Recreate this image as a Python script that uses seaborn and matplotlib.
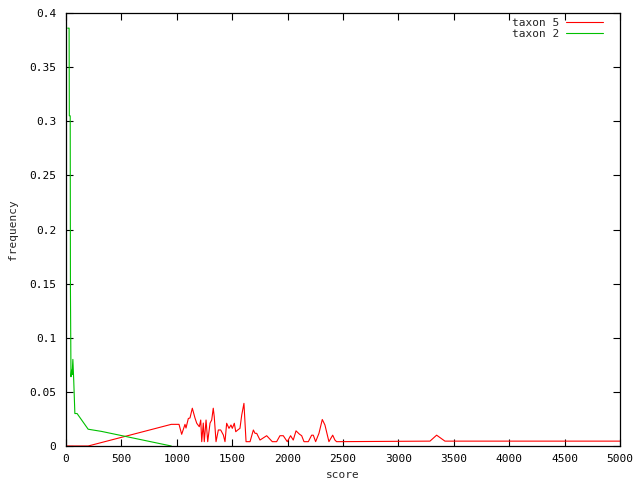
import pandas as pd
import seaborn as sns
import matplotlib.pyplot as plt

sns.set_style("ticks")
plt.rcParams["font.family"] = ["DejaVu Sans Mono", "DejaVu Sans"]

# taxon 2 (green)
t2_score = [15, 28, 30, 38, 40, 45, 50, 55, 62, 70, 80, 100, 200, 320, 950]
t2_freq = [0.386, 0.386, 0.305, 0.305, 0.145, 0.064, 0.07, 0.066, 0.08, 0.06, 0.03, 0.03, 0.0155, 0.0135, 0.0]

# taxon 5 (red)
t5_score = [0, 200, 950, 1020, 1044, 1074, 1083, 1104, 1119, 1140, 1164, 1180, 1203, 1216,
            1225, 1239, 1248, 1264, 1279, 1300, 1315, 1329, 1338, 1354, 1375, 1396, 1420,
            1435, 1450, 1471, 1489, 1501, 1519, 1532, 1550, 1570, 1586, 1606, 1625, 1661,
            1691, 1706, 1721, 1751, 1811, 1862, 1901, 1931, 1961, 1997, 2027, 2051, 2076,
            2106, 2127, 2148, 2187, 2217, 2232, 2253, 2283, 2313, 2337, 2373, 2407, 2427,
            2442, 3285, 3345, 3420, 5000]
t5_freq = [0.0, 0.0, 0.02, 0.02, 0.0108, 0.02, 0.0166, 0.0254, 0.0259, 0.0349, 0.0259, 0.021,
           0.0178, 0.024, 0.004, 0.0212, 0.004, 0.024, 0.004, 0.0212, 0.024, 0.0349, 0.027,
           0.004, 0.0148, 0.0148, 0.0102, 0.004, 0.021, 0.0163, 0.0194, 0.0163, 0.021,
           0.0132, 0.0148, 0.0163, 0.0286, 0.0394, 0.004, 0.004, 0.0148, 0.0117, 0.0117,
           0.0055, 0.0095, 0.004, 0.004, 0.0095, 0.0095, 0.004, 0.0095, 0.0055, 0.014,
           0.011, 0.0095, 0.004, 0.004, 0.010, 0.010, 0.004, 0.0117, 0.0245, 0.0194, 0.004,
           0.010, 0.0055, 0.004, 0.0045, 0.0100, 0.0045, 0.0045]

df5 = pd.DataFrame({"score": t5_score, "frequency": t5_freq})
df2 = pd.DataFrame({"score": t2_score, "frequency": t2_freq})

fig = plt.figure(figsize=(6.4, 4.8), dpi=100)
ax = fig.add_axes([66 / 640, 34 / 480, 554 / 640, 433 / 480])

sns.lineplot(data=df5, x="score", y="frequency", ax=ax, color="#ff0000",
             linewidth=0.8, estimator=None, sort=False, label="taxon 5")
sns.lineplot(data=df2, x="score", y="frequency", ax=ax, color="#00c000",
             linewidth=0.8, estimator=None, sort=False, label="taxon 2")

ax.set_xlim(0, 5000)
ax.set_ylim(0, 0.4)
ax.set_xticks(range(0, 5001, 500))
ax.set_yticks([0, 0.05, 0.1, 0.15, 0.2, 0.25, 0.3, 0.35, 0.4])
ax.set_yticklabels(["0", "0.05", "0.1", "0.15", "0.2", "0.25", "0.3", "0.35", "0.4"])
ax.tick_params(direction="in", length=5, width=0.8, labelsize=8,
               top=True, right=True, pad=7, colors="black")
ax.tick_params(axis="x", pad=6)
for s in ax.spines.values():
    s.set_visible(True)
    s.set_linewidth(0.9)
    s.set_color("black")
ax.set_xlabel("score", fontsize=8, labelpad=4)
ax.set_ylabel("frequency", fontsize=8, labelpad=8)

leg = ax.legend(loc="upper right", bbox_to_anchor=(1 - 12 / 554, 1), frameon=False,
                fontsize=8, markerfirst=False,
                handlelength=3.3, handletextpad=0.6, labelspacing=0.05,
                borderaxespad=0.15, borderpad=0.3)

plt.savefig("out.png", dpi=100)
